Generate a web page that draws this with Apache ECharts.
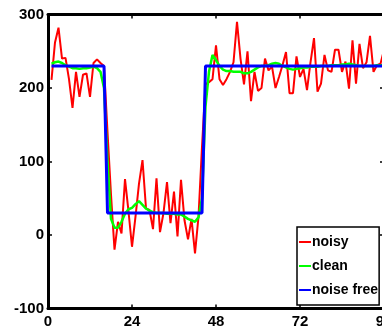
<!DOCTYPE html>
<html>
<head>
<meta charset="utf-8">
<script src="https://cdn.jsdelivr.net/npm/echarts@6/dist/echarts.min.js"></script>
<style>
  html, body { margin: 0; padding: 0; background: #fff; }
  #chart { width: 382px; height: 333px; }
</style>
</head>
<body>
<div id="chart"></div>
<script>
// sample index 1..96
const samples = Array.from({ length: 96 }, (_, i) => i + 1);

const noisy = [
  211, 262, 282, 240, 241, 212, 173, 222, 188, 218,
  220, 188, 234, 239, 234, 230, 140, 55, -20, 18,
  2, 76, 32, -16, 25, 70, 102, 36, 34, 8,
  77, 4, 30, 72, 16, 59, -2, 75, 20, -6,
  22, -25, 25, 120, 205, 208, 212, 258, 212, 204,
  212, 222, 235, 290, 240, 205, 250, 182, 222, 196,
  200, 240, 224, 229, 200, 215, 231, 249, 193, 193,
  243, 215, 226, 197, 235, 268, 195, 206, 245, 224,
  222, 252, 252, 222, 236, 199, 265, 206, 260, 227,
  235, 271, 222, 231, 233, 252
];

const clean = [
  233, 235, 236, 234, 231, 229, 227, 227, 226, 227,
  227, 228, 229, 227, 222, 200, 100, 22, 10, 10,
  18, 29, 35, 37, 42, 46, 41, 36, 33, 31,
  30, 30, 30, 29, 29, 29, 28, 28, 25, 22,
  20, 18, 24, 50, 175, 222, 245, 238, 230, 225,
  223, 223, 222, 222, 222, 220, 220, 222, 225, 228,
  230, 230, 231, 233, 234, 233, 230, 228, 226, 225,
  226, 227, 228, 228, 229, 229, 229, 230, 230, 230,
  231, 231, 231, 232, 232, 233, 232, 231, 230, 230,
  230, 230, 230, 231, 231, 231
];

const noiseFree = [
  230, 230, 230, 230, 230, 230, 230, 230, 230, 230,
  230, 230, 230, 230, 230, 230, 30, 30, 30, 30,
  30, 30, 30, 30, 30, 30, 30, 30, 30, 30,
  30, 30, 30, 30, 30, 30, 30, 30, 30, 30,
  30, 30, 30, 30, 230, 230, 230, 230, 230, 230,
  230, 230, 230, 230, 230, 230, 230, 230, 230, 230,
  230, 230, 230, 230, 230, 230, 230, 230, 230, 230,
  230, 230, 230, 230, 230, 230, 230, 230, 230, 230,
  230, 230, 230, 230, 230, 230, 230, 230, 230, 230,
  230, 230, 230, 230, 230, 230
];

const xTicks = { min: 0, max: 96, interval: 24 };
const yTicks = { min: -100, max: 300, interval: 100 };

const FONT = "'Liberation Sans', Arial, Helvetica, sans-serif";

const pairs = vals => samples.map((x, i) => [x, vals[i]]);

const axisLine = { show: true, onZero: false, lineStyle: { color: '#000', width: 3 } };
const tick = { show: true, inside: true, length: 4, lineStyle: { color: '#000', width: 1.5 } };
const label = { color: '#000', fontWeight: 'bold', fontSize: 15, fontFamily: FONT };

const chart = echarts.init(document.getElementById('chart'), null, { renderer: 'canvas' });
chart.setOption({
  animation: false,
  backgroundColor: '#fff',
  grid: { left: 48, right: -2, top: 14.5, bottom: 24.5, containLabel: false, outerBoundsMode: 'none' },
  xAxis: [
    { type: 'value', position: 'bottom', min: xTicks.min, max: xTicks.max, interval: xTicks.interval,
      axisLine, axisTick: tick, splitLine: { show: false },
      axisLabel: Object.assign({ margin: 6, hideOverlap: false }, label) },
    { type: 'value', position: 'top', min: xTicks.min, max: xTicks.max, interval: xTicks.interval,
      axisLine, axisTick: tick, splitLine: { show: false }, axisLabel: { show: false } }
  ],
  yAxis: [
    { type: 'value', position: 'left', min: yTicks.min, max: yTicks.max, interval: yTicks.interval,
      axisLine, axisTick: tick, splitLine: { show: false },
      axisLabel: Object.assign({ margin: 4 }, label) },
    { type: 'value', position: 'right', min: yTicks.min, max: yTicks.max, interval: yTicks.interval,
      axisLine, axisTick: tick, splitLine: { show: false }, axisLabel: { show: false } }
  ],
  legend: {
    orient: 'vertical',
    left: 297,
    top: 227,
    padding: [8, 1, 8, 2],
    itemGap: 10,
    itemWidth: 12,
    itemHeight: 2,
    icon: 'rect',
    backgroundColor: '#fff',
    borderColor: '#000',
    borderWidth: 1.5,
    borderRadius: 0,
    textStyle: { color: '#000', fontWeight: 'bold', fontSize: 14, fontFamily: FONT, padding: [0, 0, 0, -4] },
    data: ['noisy', 'clean', 'noise free']
  },
  series: [
    { name: 'noisy', type: 'line', data: pairs(noisy), showSymbol: false, symbol: 'none',
      itemStyle: { color: '#ff0000' }, lineStyle: { color: '#ff0000', width: 2 } },
    { name: 'clean', type: 'line', data: pairs(clean), showSymbol: false, symbol: 'none',
      itemStyle: { color: '#00ff00' }, lineStyle: { color: '#00ff00', width: 2.5 } },
    { name: 'noise free', type: 'line', data: pairs(noiseFree), showSymbol: false, symbol: 'none',
      itemStyle: { color: '#0000ff' }, lineStyle: { color: '#0000ff', width: 3 } }
  ]
});
</script>
</body>
</html>
